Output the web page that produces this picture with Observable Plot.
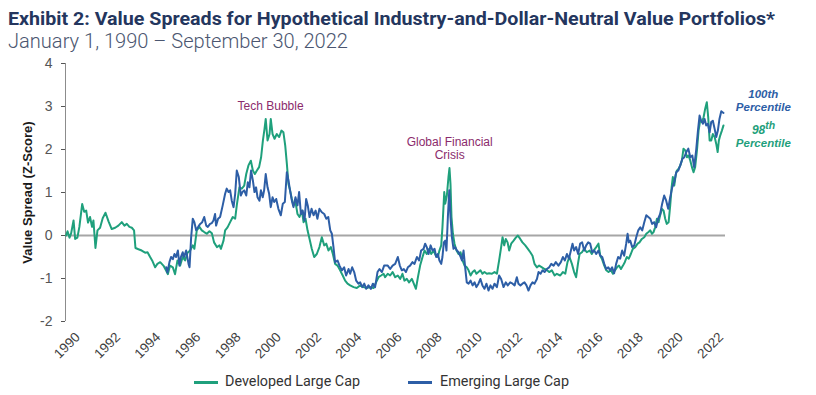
<!DOCTYPE html>
<html>
<head>
<meta charset="utf-8">
<script src="https://cdn.jsdelivr.net/npm/d3@7"></script>
<script src="https://cdn.jsdelivr.net/npm/@observablehq/plot@0.6"></script>
<style>
  html, body { margin: 0; padding: 0; background: #fff; }
  #wrap { width: 816px; height: 395px; position: relative; overflow: hidden; }
  #head { height: 55px; position: relative; }
  #title { position: absolute; left: 8px; top: 7px; font-family: Roboto, "Liberation Sans", sans-serif; font-weight: bold; font-size: 19px; color: #24365e; white-space: nowrap; transform-origin: 0 0; }
  #subtitle { position: absolute; left: 8px; top: 29px; font-family: Roboto, "Liberation Sans", sans-serif; font-weight: 300; font-size: 20px; color: #4b5670; white-space: nowrap; transform-origin: 0 0; }
  #legend { position: relative; height: 35px; font-family: Roboto, "Liberation Sans", sans-serif; font-size: 15px; color: #333; }
  .sw { position: absolute; top: 21px; width: 24px; height: 3px; }
  .lt { position: absolute; top: 12px; white-space: nowrap; transform-origin: 0 0; }
</style>
</head>
<body>
<div id="wrap">
  <div id="head">
    <div id="title"></div>
    <div id="subtitle"></div>
  </div>
  <div id="chart"></div>
  <div id="legend"></div>
</div>
<script>
const titleText = "Exhibit 2: Value Spreads for Hypothetical Industry-and-Dollar-Neutral Value Portfolios*";
const subtitleText = "January 1, 1990 \u2013 September 30, 2022";
const seriesNames = ["Developed Large Cap", "Emerging Large Cap"];
const seriesColors = ["#1fa07c", "#2d5ea6"];
const yTicks = [-2, -1, 0, 1, 2, 3, 4];
const xTickYears = [1990, 1992, 1994, 1996, 1998, 2000, 2002, 2004, 2006, 2008, 2010, 2012, 2014, 2016, 2018, 2020, 2022];

// Developed Large Cap (green): decimal year, z-score
const devT = [1989.95,1990.02,1990.12,1990.20,1990.32,1990.40,1990.51,1990.61,1990.75,1990.85,1990.95,1991.04,1991.14,1991.24,1991.31,1991.41,1991.51,1991.64,1991.77,1991.91,
1992.06,1992.22,1992.39,1992.55,1992.72,1992.85,1992.97,1993.10,1993.22,1993.33,1993.40,1993.55,1993.71,1993.88,1994.00,1994.13,1994.23,1994.38,1994.49,1994.63,
1994.79,1994.93,1995.01,1995.12,1995.26,1995.37,1995.49,1995.62,1995.75,1995.87,1995.99,1996.12,1996.25,1996.33,1996.45,1996.58,1996.70,1996.82,1996.95,1997.08,
1997.20,1997.31,1997.45,1997.58,1997.65,1997.78,1997.86,1997.98,1998.11,1998.24,1998.36,1998.44,1998.57,1998.69,1998.81,1998.91,1999.02,1999.14,1999.24,1999.34,
1999.44,1999.55,1999.65,1999.74,1999.82,1999.88,1999.97,2000.07,2000.13,2000.22,2000.32,2000.43,2000.55,2000.66,2000.76,2000.85,2000.93,2001.01,2001.09,2001.18,
2001.26,2001.36,2001.46,2001.56,2001.68,2001.76,2001.86,2001.96,2002.06,2002.17,2002.29,2002.42,2002.55,2002.67,2002.79,2002.89,2003.00,2003.12,2003.22,2003.33,
2003.45,2003.58,2003.71,2003.83,2003.95,2004.08,2004.25,2004.41,2004.58,2004.74,2004.91,2005.07,2005.24,2005.37,2005.49,2005.62,2005.74,2005.82,2005.95,2006.07,
2006.19,2006.32,2006.45,2006.57,2006.68,2006.78,2006.90,2007.01,2007.15,2007.28,2007.35,2007.45,2007.56,2007.68,2007.78,2007.89,2008.01,2008.11,2008.23,2008.34,
2008.44,2008.52,2008.61,2008.67,2008.76,2008.81,2008.89,2008.97,2009.02,2009.07,2009.12,2009.19,2009.27,2009.37,2009.47,2009.57,2009.67,2009.77,2009.88,2009.97,
2010.07,2010.17,2010.27,2010.36,2010.46,2010.56,2010.66,2010.76,2010.88,2010.99,2011.13,2011.26,2011.38,2011.49,2011.59,2011.66,2011.74,2011.82,2011.91,2011.99,
2012.09,2012.21,2012.32,2012.42,2012.54,2012.65,2012.79,2012.92,2013.04,2013.15,2013.25,2013.37,2013.48,2013.62,2013.75,2013.86,2013.98,2014.11,2014.25,2014.36,
2014.53,2014.66,2014.78,2014.89,2014.99,2015.11,2015.22,2015.32,2015.41,2015.49,2015.61,2015.72,2015.85,2015.99,2016.10,2016.19,2016.32,2016.43,2016.52,2016.60,
2016.72,2016.82,2016.93,2017.05,2017.15,2017.25,2017.35,2017.45,2017.55,2017.65,2017.74,2017.84,2017.94,2018.04,2018.14,2018.26,2018.38,2018.47,2018.59,2018.71,
2018.81,2018.92,2019.01,2019.09,2019.17,2019.25,2019.34,2019.42,2019.50,2019.59,2019.67,2019.75,2019.83,2019.92,2020.00,2020.07,2020.13,2020.20,2020.27,2020.33,
2020.41,2020.50,2020.58,2020.66,2020.75,2020.83,2020.91,2021.00,2021.08,2021.16,2021.24,2021.33,2021.41,2021.49,2021.58,2021.66,2021.74,2021.82,2021.89,2021.96,
2022.04,2022.12,2022.21,2022.29,2022.36,2022.42,2022.49,2022.57,2022.65];
const devV = [0.00,0.10,-0.05,0.05,0.35,-0.08,-0.05,0.20,0.73,0.55,0.58,0.30,0.43,0.20,0.35,-0.29,0.12,0.18,0.40,0.53,
0.33,0.15,0.18,0.23,0.31,0.23,0.27,0.20,0.18,0.12,-0.29,-0.32,-0.35,-0.40,-0.39,-0.50,-0.58,-0.74,-0.66,-0.62,
-0.70,-0.82,-0.90,-0.70,-0.74,-0.90,-0.58,-0.70,-0.50,-0.58,-0.40,-0.35,-0.23,-0.31,0.12,0.20,0.12,0.08,0.04,0.10,
0.05,-0.16,-0.27,-0.23,-0.31,-0.12,0.12,0.19,0.31,0.43,0.39,0.70,1.12,1.09,1.16,1.43,1.63,1.74,1.51,1.43,
1.51,1.59,1.82,2.21,2.48,2.71,2.21,2.36,2.71,2.36,2.25,2.36,2.29,2.44,2.40,2.09,1.67,1.20,1.05,0.85,
0.70,0.78,0.50,0.43,0.58,0.31,0.39,0.12,-0.08,-0.31,-0.50,-0.43,-0.27,-0.04,-0.23,-0.19,-0.35,-0.27,-0.43,-0.66,
-0.70,-0.81,-0.93,-1.05,-1.12,-1.16,-1.20,-1.22,-1.16,-1.20,-1.22,-1.20,-1.22,-1.09,-0.97,-0.93,-0.89,-0.97,-0.89,-0.93,
-0.85,-0.97,-0.93,-1.01,-0.89,-1.05,-1.01,-1.09,-1.01,-1.16,-1.24,-0.97,-0.70,-0.50,-0.35,-0.43,-0.31,-0.43,-0.35,-0.47,
-0.50,-0.35,-0.23,0.19,1.01,0.74,0.93,1.36,1.57,1.20,0.43,0.04,-0.19,-0.35,-0.43,-0.39,-0.58,-0.70,-0.74,-0.81,
-0.93,-0.85,-0.81,-0.89,-0.85,-0.81,-0.89,-0.85,-0.89,-0.88,-0.89,-0.85,-0.89,-0.58,-0.27,-0.04,-0.23,-0.08,-0.16,-0.35,
-0.19,-0.12,-0.05,0.00,-0.08,-0.16,-0.23,-0.31,-0.39,-0.47,-0.66,-0.74,-0.70,-0.74,-0.78,-0.80,-0.85,-0.81,-0.93,-0.89,
-0.93,-0.85,-0.89,-0.62,-0.50,-0.66,-0.85,-0.97,-0.66,-0.43,-0.39,-0.31,-0.39,-0.35,-0.43,-0.35,-0.27,-0.19,-0.47,-0.54,
-0.70,-0.81,-0.85,-0.81,-0.89,-0.81,-0.74,-0.70,-0.78,-0.70,-0.62,-0.50,-0.54,-0.43,-0.31,-0.27,-0.19,-0.16,-0.08,-0.04,
0.04,0.08,0.12,0.04,0.08,0.19,0.39,0.31,0.47,0.62,0.58,0.39,0.27,0.31,0.70,1.12,1.36,1.16,1.40,1.51,
1.55,1.63,1.74,2.02,1.98,1.82,1.86,1.74,1.59,1.47,1.59,1.98,2.44,2.67,2.64,2.75,2.95,3.10,2.75,2.21,
2.21,2.36,2.29,2.13,1.94,2.21,2.33,2.44,2.56];

// Emerging Large Cap (blue): decimal year, z-score
const emgT = [1994.93,1994.99,1995.09,1995.17,1995.26,1995.34,1995.42,1995.51,1995.59,1995.66,1995.75,1995.82,1995.92,1996.04,1996.09,1996.17,1996.25,1996.33,1996.42,1996.52,
1996.62,1996.72,1996.82,1996.92,1997.00,1997.11,1997.20,1997.28,1997.36,1997.41,1997.51,1997.61,1997.74,1997.86,1997.94,1998.03,1998.11,1998.19,1998.28,1998.36,
1998.44,1998.54,1998.64,1998.72,1998.81,1998.91,1998.99,1999.07,1999.15,1999.24,1999.32,1999.40,1999.47,1999.57,1999.64,1999.73,1999.80,1999.88,1999.97,2000.05,
2000.13,2000.22,2000.30,2000.40,2000.51,2000.63,2000.73,2000.83,2000.93,2001.01,2001.09,2001.18,2001.26,2001.36,2001.46,2001.54,2001.63,2001.72,2001.81,2001.89,
2001.97,2002.06,2002.16,2002.26,2002.36,2002.45,2002.55,2002.67,2002.79,2002.89,2002.99,2003.09,2003.17,2003.25,2003.33,2003.45,2003.55,2003.67,2003.78,2003.88,
2004.00,2004.08,2004.18,2004.28,2004.38,2004.49,2004.58,2004.68,2004.78,2004.88,2004.99,2005.11,2005.21,2005.32,2005.44,2005.54,2005.66,2005.77,2005.95,2006.07,
2006.19,2006.32,2006.45,2006.55,2006.65,2006.75,2006.85,2006.95,2007.06,2007.18,2007.28,2007.40,2007.51,2007.61,2007.73,2007.81,2007.89,2007.98,2008.08,2008.18,
2008.28,2008.36,2008.44,2008.52,2008.61,2008.67,2008.74,2008.81,2008.87,2008.94,2009.01,2009.07,2009.14,2009.22,2009.30,2009.39,2009.47,2009.55,2009.64,2009.72,
2009.80,2009.88,2009.97,2010.07,2010.17,2010.27,2010.36,2010.46,2010.56,2010.66,2010.76,2010.86,2010.96,2011.06,2011.16,2011.26,2011.38,2011.49,2011.59,2011.71,
2011.82,2011.92,2012.04,2012.16,2012.26,2012.37,2012.45,2012.55,2012.65,2012.75,2012.85,2012.95,2013.05,2013.15,2013.25,2013.37,2013.45,2013.55,2013.65,2013.75,
2013.86,2013.98,2014.08,2014.20,2014.31,2014.44,2014.56,2014.66,2014.76,2014.86,2014.96,2015.06,2015.14,2015.22,2015.32,2015.42,2015.52,2015.62,2015.72,2015.82,
2015.92,2016.02,2016.12,2016.22,2016.32,2016.43,2016.52,2016.62,2016.72,2016.82,2016.92,2017.02,2017.11,2017.21,2017.31,2017.41,2017.51,2017.61,2017.71,2017.81,
2017.88,2017.94,2018.01,2018.11,2018.21,2018.31,2018.41,2018.51,2018.61,2018.71,2018.81,2018.91,2019.01,2019.10,2019.20,2019.30,2019.40,2019.50,2019.60,2019.70,
2019.80,2019.90,2020.00,2020.10,2020.20,2020.30,2020.40,2020.50,2020.60,2020.70,2020.80,2020.90,2021.00,2021.10,2021.19,2021.29,2021.38,2021.46,2021.54,2021.63,
2021.71,2021.79,2021.87,2021.96,2022.04,2022.12,2022.21,2022.29,2022.37,2022.45,2022.54,2022.65];
const emgV = [-0.74,-0.86,-0.62,-0.50,-0.55,-0.43,-0.50,-0.35,-0.70,-0.50,-0.39,-0.50,-0.35,-0.66,-0.74,-0.04,0.39,0.31,0.12,0.20,
0.27,0.31,0.43,0.23,0.20,0.27,0.29,0.35,0.50,0.23,0.39,0.43,0.70,0.97,1.09,1.01,1.05,0.81,0.66,0.97,
1.51,1.36,0.93,1.01,1.05,0.93,1.24,1.12,1.51,1.28,1.01,1.12,0.89,0.81,1.05,0.89,1.05,1.43,1.12,0.97,
0.66,0.89,0.78,0.85,0.62,0.47,0.74,0.78,1.47,1.28,1.05,0.81,0.66,0.89,0.70,1.01,0.50,0.58,0.35,0.85,
0.70,0.43,0.62,0.47,0.58,0.39,0.62,0.54,0.50,0.39,0.43,0.12,0.04,-0.27,-0.62,-0.58,-0.70,-0.81,-0.74,-0.93,
-0.78,-0.89,-0.74,-0.85,-1.05,-1.12,-1.09,-1.20,-1.12,-1.24,-1.16,-1.24,-1.12,-1.20,-0.85,-0.78,-0.85,-0.70,-0.70,-0.78,
-0.70,-0.66,-0.50,-0.70,-0.81,-0.78,-0.85,-0.74,-0.70,-0.62,-0.66,-0.50,-0.58,-0.35,-0.31,-0.19,-0.27,-0.43,-0.23,-0.35,
-0.31,-0.50,-0.43,-0.58,-0.66,-0.50,-0.16,-0.12,-0.35,0.43,1.05,0.43,-0.04,-0.31,-0.27,-0.35,-0.39,-0.47,-0.58,-0.35,
-0.74,-1.09,-1.12,-1.05,-1.16,-1.09,-1.20,-1.12,-1.01,-1.16,-1.24,-1.12,-1.28,-1.16,-1.24,-1.12,-1.20,-0.93,-1.01,-1.20,
-1.09,-1.16,-1.09,-1.12,-1.16,-0.97,-1.12,-1.16,-1.12,-1.09,-1.16,-1.28,-1.16,-1.09,-1.12,-1.01,-0.85,-0.89,-0.81,-0.85,
-0.78,-0.74,-0.66,-0.70,-0.62,-0.70,-0.62,-0.50,-0.58,-0.43,-0.54,-0.35,-0.19,-0.35,-0.27,-0.43,-0.19,-0.16,-0.35,-0.23,
-0.16,-0.19,-0.39,-0.35,-0.43,-0.35,-0.47,-0.50,-0.66,-0.78,-0.74,-0.81,-0.74,-0.88,-0.66,-0.50,-0.54,-0.35,-0.47,-0.19,
0.04,-0.16,-0.12,-0.27,-0.23,-0.04,0.12,0.19,0.12,0.31,0.47,0.43,0.39,0.27,0.31,0.19,0.39,0.50,0.74,0.93,
0.81,0.62,0.89,1.12,1.24,1.47,1.51,1.63,1.78,1.82,1.94,2.02,1.82,1.86,1.59,1.98,2.44,2.79,2.67,2.60,
2.71,2.56,2.60,2.40,2.64,2.67,2.48,2.29,2.44,2.71,2.89,2.85];

// Annotations
const annTech = {t: 2000.12, v: 3.0, text: "Tech Bubble"};
const annGfc = {t: 2009.03, v: 2.02, text: "Global Financial\nCrisis"};
const annLabelT = 2024.63;
const ann100 = [{v: 3.29, text: "100th"}, {v: 2.97, text: "Percentile"}];
const ann98 = [{v: 2.45, text: "98"}, {v: 2.15, text: "Percentile"}];
const ann98sup = {v: 2.56, text: "th"};

// fit a text block to a target pixel width (condensed face look)
function fitWidth(el, target) {
  const w = el.getBoundingClientRect().width;
  if (w > 0) el.style.transform = `scaleX(${target / w})`;
}
const titleEl = document.getElementById("title");
const subEl = document.getElementById("subtitle");
titleEl.textContent = titleText;
subEl.textContent = subtitleText;
fitWidth(titleEl, 767);
fitWidth(subEl, 340);

const dev = devT.map((t, i) => ({t, v: devV[i]}));
const emg = emgT.map((t, i) => ({t, v: emgV[i]}));

const font = "'Liberation Sans', Arial, sans-serif";
const x0 = 1989.92;
const annStyle = {fontSize: 11.5, fontWeight: "bold", fontStyle: "italic"};
const plot = Plot.plot({
  width: 816,
  height: 305,
  marginLeft: 65,
  marginRight: 91,
  marginTop: 8,
  marginBottom: 39,
  style: {fontFamily: font, background: "#fff", overflow: "visible"},
  x: {type: "linear", domain: [x0, 2022.75], axis: null},
  y: {type: "linear", domain: [-2, 4], axis: null},
  marks: [
    Plot.ruleY([0], {stroke: "#a6a6a6", strokeWidth: 2}),
    Plot.ruleX([x0], {y1: -2, y2: 4, stroke: "#8c8c8c", strokeWidth: 1}),
    Plot.axisY(yTicks, {anchor: "left", tickSize: 4, tickPadding: 9, fontSize: 14, color: "#555", label: null, tickFormat: d => String(d)}),
    Plot.text(xTickYears, {x: d => d, frameAnchor: "bottom", dy: 24, rotate: -45, textAnchor: "middle", lineAnchor: "middle", text: d => String(d), fontSize: 13.5, fill: "#404040"}),
    Plot.text(["Value Spread (Z-Score)"], {frameAnchor: "left", rotate: -90, dx: -38, textAnchor: "middle", lineAnchor: "middle", fontWeight: "bold", fontSize: 13, fill: "#1a1a1a"}),
    Plot.line(dev, {x: "t", y: "v", stroke: seriesColors[0], strokeWidth: 2}),
    Plot.line(emg, {x: "t", y: "v", stroke: seriesColors[1], strokeWidth: 2}),
    Plot.text([annTech], {x: "t", y: "v", text: "text", fill: "#8b2b6c", fontSize: 12}),
    Plot.text([annGfc], {x: "t", y: "v", text: "text", fill: "#8b2b6c", fontSize: 12, lineHeight: 1.1}),
    Plot.text(ann100, {x: () => annLabelT, y: "v", text: "text", fill: seriesColors[1], ...annStyle}),
    Plot.text([ann98[0]], {x: () => annLabelT, y: "v", text: "text", fill: seriesColors[0], ...annStyle, fontSize: 12, textAnchor: "end", dx: 2}),
    Plot.text([ann98[1]], {x: () => annLabelT, y: "v", text: "text", fill: seriesColors[0], ...annStyle}),
    Plot.text([ann98sup], {x: () => annLabelT, y: "v", text: "text", fill: seriesColors[0], ...annStyle, fontSize: 10.5, textAnchor: "start", dx: 2})
  ]
});
document.getElementById("chart").appendChild(plot);

const legend = document.getElementById("legend");
const legendPos = [{sw: 194, tx: 225, w: 135}, {sw: 408, tx: 440, w: 129}];
seriesNames.forEach((name, i) => {
  const sw = document.createElement("div");
  sw.className = "sw";
  sw.style.left = legendPos[i].sw + "px";
  sw.style.background = seriesColors[i];
  legend.appendChild(sw);
  const tx = document.createElement("div");
  tx.className = "lt";
  tx.style.left = legendPos[i].tx + "px";
  tx.textContent = name;
  legend.appendChild(tx);
  fitWidth(tx, legendPos[i].w);
});
</script>
</body>
</html>
